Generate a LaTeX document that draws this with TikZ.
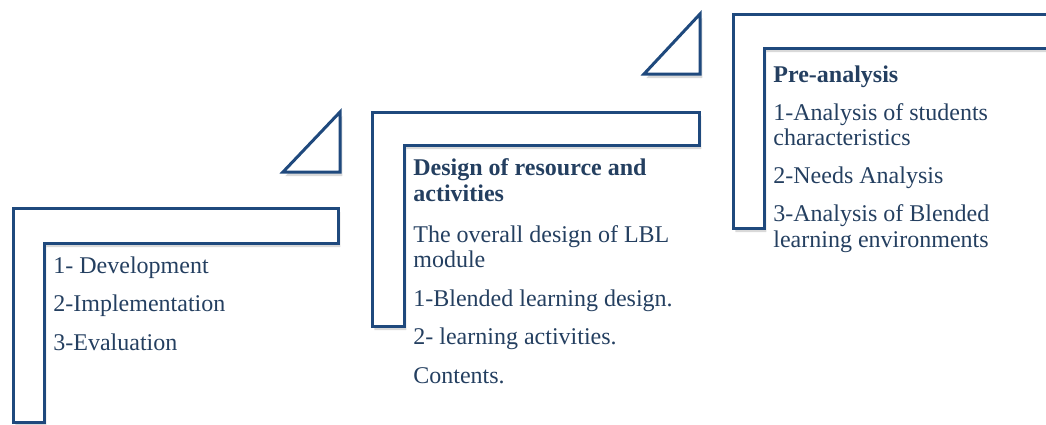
\documentclass[tikz,border=0pt]{standalone}
\usepackage{fontspec}
\setmainfont{Liberation Serif}
\usepackage{xcolor}
\usepackage{tikz}
\usetikzlibrary{shadows}
\definecolor{StepBlue}{HTML}{1F497D}
\definecolor{StepText}{HTML}{243F60}

\begin{document}
\begin{tikzpicture}[x=0.5pt, y=-0.5pt,
    stair/.style={draw=StepBlue, line width=1.5pt, fill=white, line join=miter,
        drop shadow={opacity=0.3, shadow xshift=1.2pt, shadow yshift=-2pt}},
    stepnote/.style={anchor=base west, inner sep=0pt, align=left, text=StepText,
        font=\fontsize{12}{12.6}\selectfont}
]
\useasboundingbox (0,0) rectangle (1046,424);

% Step 1 (bottom left)
\path[stair] (13,208) -- (338,208) -- (338,243) -- (44,243) -- (44,422) -- (13,422) -- cycle;
% Step 2 (middle)
\path[stair] (340,112) -- (340,172) -- (283,172) -- cycle;
\path[stair] (372,112) -- (699,112) -- (699,145) -- (404,145) -- (404,326) -- (372,326) -- cycle;
% Step 3 (top right)
\path[stair] (700,14) -- (700,74) -- (644,74) -- cycle;
\path[stair] (733,14) -- (1080,14) -- (1080,48) -- (764,48) -- (764,228) -- (733,228) -- cycle;

% Texts (placed by the baseline of their last line)
\node[stepnote] (evaluate) at (53,350) {1- Development\\[6.5pt]
    2-Implementation\\[6.5pt]
    3-Evaluation};
\node[stepnote] (design) at (413,383) {\textbf{Design of resource and}\\\textbf{activities}\\[8pt]
    The overall design of LBL\\module\\[7pt]
    1-Blended learning design.\\[6.5pt]
    2- learning activities.\\[6.5pt]
    Contents.};
\node[stepnote] (preanalysis) at (773,247) {\textbf{Pre-analysis}\\[6.5pt]
    1-Analysis of students\\characteristics\\[6.5pt]
    2-Needs Analysis\\[6.5pt]
    3-Analysis of Blended\\learning environments};
\end{tikzpicture}
\end{document}
